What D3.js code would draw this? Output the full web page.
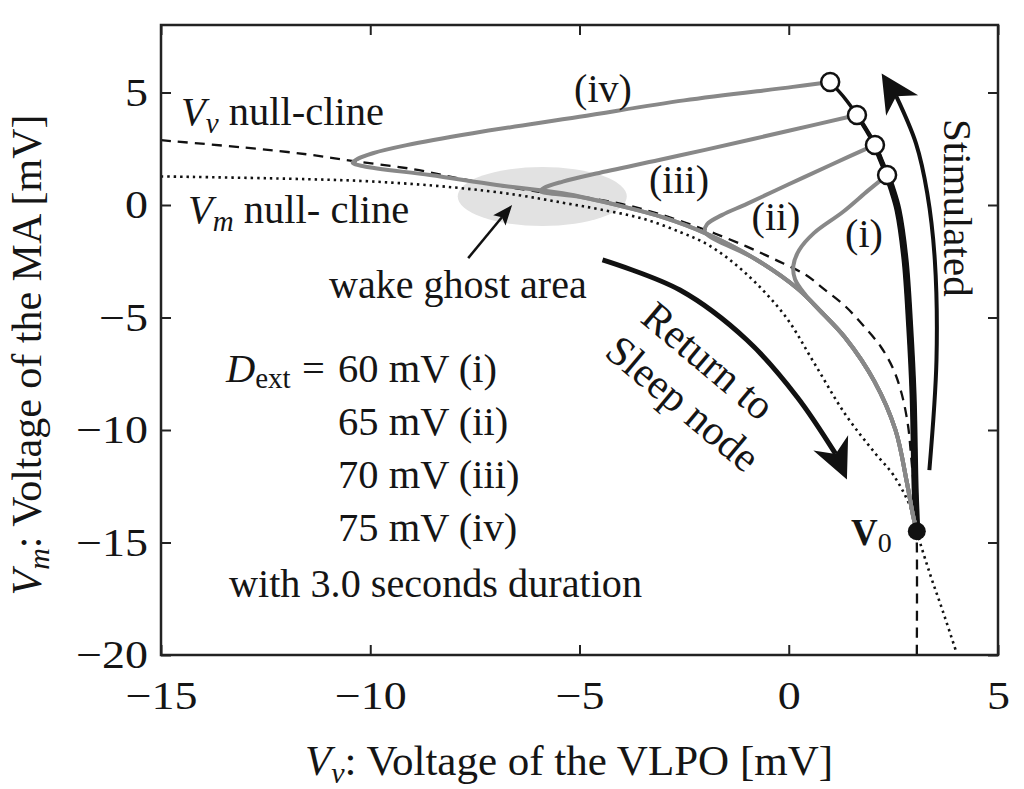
<!DOCTYPE html>
<html><head><meta charset="utf-8">
<script src="https://cdn.jsdelivr.net/npm/d3@7"></script>
<style>
body{margin:0;background:#fff}
svg{display:block}
text{font-family:'Liberation Serif','Times New Roman',serif;fill:#151515}
</style>
</head><body>
<svg id="c" width="1024" height="789"></svg>
<script>
// ---------------- data ----------------
const xTicks = [-15, -10, -5, 0, 5];
const yTicks = [-20, -15, -10, -5, 0, 5];

// Vv null-cline (dashed)
const vvNullcline = [[-15,2.88],[-13,2.55],[-11.5,2.25],[-10.4,1.95],[-9,1.6],[-7.6,1.08],[-6,0.6],[-5.1,0.4],[-4,0.05],[-3.1,-0.4],[-2,-1.1],[-1,-1.85],[-0.3,-2.45],[0.4,-3.1],[0.85,-3.75],[1.35,-4.5],[1.8,-5.4],[2.2,-6.3],[2.5,-7.3],[2.7,-8.4],[2.85,-9.8],[2.93,-11.3],[3.0,-12.8],[3.04,-14.0],[3.06,-15],[3.06,-20]];
// Vm null-cline (dotted)
const vmNullcline = [[-15,1.27],[-12,1.17],[-10,1.05],[-8,0.78],[-6.5,0.45],[-5.4,0.1],[-4.5,-0.2],[-3.5,-0.6],[-2.6,-1.2],[-1.9,-1.8],[-1.05,-3.0],[-0.1,-4.9],[0.6,-7.0],[1.35,-9.3],[2.05,-11.0],[2.5,-12.0],[2.9,-13.4],[3.06,-14.52],[3.37,-16.37],[3.69,-18.1],[4.0,-19.85]];

// common return branch to the sleep node
const returnBranch = [[-4.0,-0.05],[-3.0,-0.55],[-2.0,-1.25],[-0.8,-2.4],[0.2,-3.7],[0.75,-4.7],[1.35,-5.9],[2.05,-7.85],[2.55,-10.0],[2.82,-12.3],[2.97,-13.8],[3.06,-14.5]];
// free trajectories after stimulation
const trajI   = [[2.35,1.33],[1.9,0.65],[1.3,-0.3],[0.6,-1.25],[0.25,-2.0],[0.11,-2.7],[0.15,-3.3],[0.4,-4.0],[0.75,-4.7]];
const trajII  = [[2.06,2.67],[1.0,1.78],[0.0,0.92],[-1.0,0.05],[-1.6,-0.45],[-1.95,-0.85],[-2.0,-1.2]];
const trajIII = [[1.63,4.0],[0.0,3.3],[-2.0,2.45],[-3.1,2.0],[-4.6,1.4],[-5.4,1.04],[-5.85,0.76],[-5.93,0.62],[-5.0,0.36]];
const trajIV  = [[0.99,5.47],[0.1,5.25],[-2.5,4.65],[-5.0,3.92],[-7.55,3.19],[-9.13,2.66],[-9.94,2.3],[-10.3,2.05],[-10.42,1.88],[-10.16,1.72],[-8.57,1.33],[-6.98,0.89],[-5.4,0.52]];

// stimulated path from V0 (black)
const stimulatedPath = [[3.06,-14.5],[3.02,-12.6],[2.97,-8.4],[2.89,-5.4],[2.78,-2.45],[2.61,-0.22],[2.47,0.7],[2.35,1.33],[2.2,2.0],[2.06,2.67],[1.85,3.35],[1.63,4.0],[1.35,4.72],[0.99,5.47]];
const stimEndIndex = [7, 9, 11, 13];           // end of stimulation for (i)..(iv)
const stimWidths = [7, 5.5, 4.5, 3.5];
const v0 = [3.06, -14.5];

const ghostCenter = [-5.89, 0.38];
const ghostRadii = [2.02, 1.31];

// annotation arrows (data coordinates)
const returnArrow = [[-4.45,-2.44],[-2.6,-3.78],[-1.0,-6.0],[0.2,-8.53],[0.95,-10.35]];
const returnArrowTip = [1.39,-12.2];
const stimArrow = [[3.36,-11.78],[3.53,-6.89],[3.49,-2.44],[3.31,0.52],[3.04,2.74],[2.78,4.22]];
const stimArrowTip = [2.22,5.85];
const ghostArrow = [[-7.66,-2.36]];
const ghostArrowTip = [-6.61,0.0];

const trajLabels = ["(i)", "(ii)", "(iii)", "(iv)"];
const dextRows = ["60 mV (i)", "65 mV (ii)", "70 mV (iii)", "75 mV (iv)"];

// ---------------- drawing ----------------
const svg = d3.select("#c");
const L = 161, R = 998, T = 25, B = 655;
const x = d3.scaleLinear().domain([-15, 5]).range([L, R]);
const y = d3.scaleLinear().domain([-20, 8]).range([B, T]);
const fmt = v => (v < 0 ? "\u2212" : "") + Math.abs(v);

svg.append("defs").append("clipPath").attr("id","clip")
  .append("rect").attr("x",L).attr("y",T).attr("width",R-L).attr("height",B-T);

const plot = svg.append("g").attr("clip-path","url(#clip)");

// ghost area
plot.append("ellipse")
  .attr("cx", x(ghostCenter[0])).attr("cy", y(ghostCenter[1]))
  .attr("rx", x(ghostCenter[0]+ghostRadii[0]) - x(ghostCenter[0]))
  .attr("ry", y(ghostCenter[1]-ghostRadii[1]) - y(ghostCenter[1]))
  .attr("fill", "#e2e2e2");

const line = d3.line().x(d => x(d[0])).y(d => y(d[1])).curve(d3.curveCatmullRom.alpha(0.5));
const pline = d3.line().curve(d3.curveCatmullRom.alpha(0.5));

plot.append("path").attr("d", line(vvNullcline)).attr("fill","none")
  .attr("stroke","#111").attr("stroke-width",2.3).attr("stroke-dasharray","10,7");
plot.append("path").attr("d", line(vmNullcline)).attr("fill","none")
  .attr("stroke","#111").attr("stroke-width",2.6).attr("stroke-dasharray","2.4,4");

// stimulated black path
stimEndIndex.forEach((k, i) => {
  plot.append("path").attr("d", line(stimulatedPath.slice(0, k+1))).attr("fill","none")
    .attr("stroke","#111").attr("stroke-width", stimWidths[i]).attr("stroke-linecap","round");
});

// gray trajectories
const trajs = [
  trajI.concat(returnBranch.slice(6)),
  trajII.concat(returnBranch.slice(3)),
  trajIII.concat(returnBranch),
  trajIV.concat(returnBranch)
];
trajs.forEach(t => {
  plot.append("path").attr("d", line(t)).attr("fill","none")
    .attr("stroke","#888").attr("stroke-width",4).attr("stroke-linejoin","round");
});

// end-of-stimulation circles
stimEndIndex.forEach(k => {
  const p = stimulatedPath[k];
  plot.append("circle").attr("cx", x(p[0])).attr("cy", y(p[1])).attr("r", 9)
    .attr("fill","#fff").attr("stroke","#111").attr("stroke-width",2.5);
});
// V0
plot.append("circle").attr("cx", x(v0[0])).attr("cy", y(v0[1])).attr("r", 9).attr("fill","#111");

// arrows
function arrow(pts, tip, width, Lh, Wh, notch) {
  const P = pts.map(d => [x(d[0]), y(d[1])]);
  const t = [x(tip[0]), y(tip[1])];
  const last = P[P.length-1];
  let dx = t[0]-last[0], dy = t[1]-last[1];
  const n = Math.hypot(dx, dy); dx /= n; dy /= n;
  const px = -dy, py = dx;
  const base = [t[0]-dx*Lh, t[1]-dy*Lh];
  const nt = [t[0]-dx*(Lh-notch), t[1]-dy*(Lh-notch)];
  const pp = P.length > 1 ? P.slice(0, -1).concat([nt]) : P.concat([nt]);
  svg.append("path").attr("d", pp.length > 2 ? pline(pp) : d3.line()(pp)).attr("fill","none")
    .attr("stroke","#111").attr("stroke-width", width);
  svg.append("path").attr("d",
    `M${t[0]},${t[1]}L${base[0]+px*Wh},${base[1]+py*Wh}L${nt[0]},${nt[1]}L${base[0]-px*Wh},${base[1]-py*Wh}Z`)
    .attr("fill","#111");
}
arrow(returnArrow, returnArrowTip, 5, 40, 19, 12);
arrow(stimArrow, stimArrowTip, 4, 38, 19, 11);
arrow(ghostArrow, ghostArrowTip, 2.5, 20, 8, 4);

// frame
svg.append("rect").attr("x",L).attr("y",T).attr("width",R-L).attr("height",B-T)
  .attr("fill","none").attr("stroke","#222").attr("stroke-width",2.5);

// axes
function styleAxis(g) {
  g.select(".domain").remove();
  g.selectAll(".tick line").attr("stroke","#222").attr("stroke-width",2);
  g.selectAll(".tick text").attr("fill","#151515")
    .style("font-family","'Liberation Serif','Times New Roman',serif").style("font-size","40px");
}
const gx = svg.append("g").attr("transform",`translate(0,${B})`)
  .call(d3.axisBottom(x).tickValues(xTicks).tickSizeInner(-10).tickSizeOuter(0).tickPadding(26).tickFormat(fmt))
  .call(styleAxis);
gx.selectAll(".tick text").attr("transform","scale(1.15,1)");
const gy = svg.append("g").attr("transform",`translate(${L},0)`)
  .call(d3.axisLeft(y).tickValues(yTicks).tickSizeInner(-10).tickSizeOuter(0).tickPadding(14).tickFormat(fmt))
  .call(styleAxis);
gy.selectAll(".tick text").attr("x", -13/1.15).attr("transform","scale(1.15,1)");
svg.append("g").attr("transform",`translate(0,${T})`)
  .call(d3.axisTop(x).tickValues(xTicks).tickSizeInner(-10).tickSizeOuter(0).tickFormat(""))
  .call(styleAxis);
svg.append("g").attr("transform",`translate(${R},0)`)
  .call(d3.axisRight(y).tickValues(yTicks).tickSizeInner(-10).tickSizeOuter(0).tickFormat(""))
  .call(styleAxis);

// axis titles
const xt = svg.append("text").attr("x", 569).attr("y", 775).attr("text-anchor","middle").style("font-size","43px");
xt.append("tspan").style("font-style","italic").text("V");
xt.append("tspan").style("font-style","italic").style("font-size","30px").attr("dy",8).text("v");
xt.append("tspan").attr("dy",-8).text(": Voltage of the VLPO [mV]");

const yt = svg.append("text").attr("transform","translate(41,355) rotate(-90)").attr("text-anchor","middle").style("font-size","42px");
yt.append("tspan").style("font-style","italic").text("V");
yt.append("tspan").style("font-style","italic").style("font-size","30px").attr("dy",8).text("m");
yt.append("tspan").attr("dy",-8).text(": Voltage of the MA [mV]");

// null-cline labels
const t1 = svg.append("text").attr("x",181).attr("y",125).style("font-size","40.5px");
t1.append("tspan").style("font-style","italic").text("V");
t1.append("tspan").style("font-style","italic").style("font-size","29px").attr("dy",8).text("v");
t1.append("tspan").attr("dy",-8).text(" null-cline");
const t2 = svg.append("text").attr("x",188).attr("y",223).style("font-size","40.5px");
t2.append("tspan").style("font-style","italic").text("V");
t2.append("tspan").style("font-style","italic").style("font-size","29px").attr("dy",8).text("m");
t2.append("tspan").attr("dy",-8).text(" null- cline");

svg.append("text").attr("x",329).attr("y",298).style("font-size","40px").text("wake ghost area");

// trajectory labels
const labPos = [[864,247],[776,230],[679,193],[603,102]];
trajLabels.forEach((s,i) => {
  svg.append("text").attr("x",labPos[i][0]).attr("y",labPos[i][1]).attr("text-anchor","middle")
    .style("font-size","40px").text(s);
});

// D_ext block
const d0 = svg.append("text").attr("x",226).attr("y",382).style("font-size","40.5px");
d0.append("tspan").style("font-style","italic").text("D");
d0.append("tspan").style("font-size","29px").attr("dy",6).text("ext");
svg.append("text").attr("x",302).attr("y",382).style("font-size","40.5px").text("=");
dextRows.forEach((s,i) => {
  svg.append("text").attr("x",338).attr("y",382 + i*53).style("font-size","40.5px").text(s);
});
svg.append("text").attr("x",229).attr("y",597).style("font-size","40.2px").text("with 3.0 seconds duration");

// Return to Sleep node
const rt = svg.append("g").attr("transform","translate(639,321) rotate(40)");
rt.append("text").attr("x",0).attr("y",0).style("font-size","42px").text("Return to");
rt.append("text").attr("x",-6).attr("y",49).style("font-size","42px").text("Sleep node");

// Stimulated
svg.append("text").attr("transform","translate(944,119) rotate(90)").style("font-size","41px").text("Stimulated");

// V0 label
const vl = svg.append("text").attr("x",851).attr("y",545).style("font-size","37px");
vl.append("tspan").style("font-weight","bold").text("V");
vl.append("tspan").style("font-size","28px").attr("dy",7).text("0");
</script>
</body></html>
